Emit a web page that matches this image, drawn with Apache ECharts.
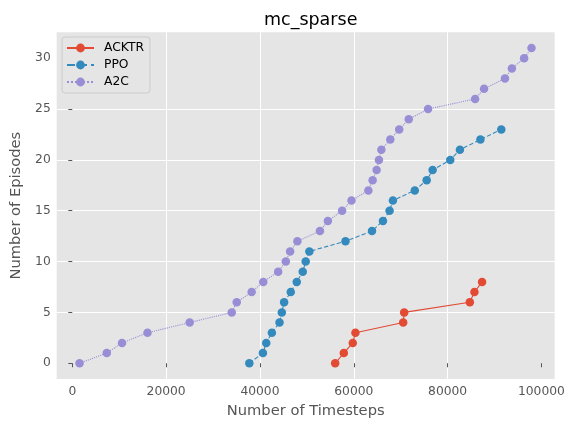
<!DOCTYPE html>
<html>
<head>
<meta charset="utf-8">
<script src="https://cdn.jsdelivr.net/npm/echarts@6/dist/echarts.min.js"></script>
<style>html,body{margin:0;padding:0;background:#fff}#c{width:566px;height:421px}</style>
</head>
<body>
<div id="c"></div>
<script>
const acktrX = [56030, 57870, 59780, 60350, 70530, 70740, 84730, 85720, 87340];
const acktrY = [0, 1, 2, 3, 4, 5, 6, 7, 8];
const ppoX = [37730, 40630, 41340, 42540, 44170, 44660, 45150, 46570, 47840, 49120, 49750, 50530, 58230, 63880, 66220, 67630, 68340, 73000, 75540, 76810, 80560, 82620, 86990, 91440];
const ppoY = [0, 1, 2, 3, 4, 5, 6, 7, 8, 9, 10, 11, 12, 13, 14, 15, 16, 17, 18, 19, 20, 21, 22, 23];
const a2cX = [1550, 7350, 10600, 16030, 25020, 33990, 35050, 38230, 40700, 43880, 45510, 46430, 47980, 52790, 54480, 57510, 59510, 63110, 64020, 64870, 65360, 65870, 67780, 69680, 71720, 75830, 85860, 87770, 92220, 93700, 96310, 97880];
const a2cY = [0, 1, 2, 3, 4, 5, 6, 7, 8, 9, 10, 11, 12, 13, 14, 15, 16, 17, 18, 19, 20, 21, 22, 23, 24, 25, 26, 27, 28, 29, 30, 31];
const xTicks = [0, 20000, 40000, 60000, 80000, 100000];
const yTicks = [0, 5, 10, 15, 20, 25, 30];
const seriesNames = ['ACKTR', 'PPO', 'A2C'];
const colors = ['#E24A33', '#348ABD', '#988ED5'];
const lineTypes = ['solid', 'dashed', 'dotted'];

const pairs = (xs, ys) => xs.map((x, i) => [x, ys[i]]);
const datas = [pairs(acktrX, acktrY), pairs(ppoX, ppoY), pairs(a2cX, a2cY)];

const xMin = -3325, xMax = 102825, yMin = -1.55, yMax = 32.55;
const font = 'DejaVu Sans';

const chart = echarts.init(document.getElementById('c'), null, {renderer: 'canvas'});
chart.setOption({
  animation: false,
  backgroundColor: '#ffffff',
  title: {
    text: 'mc_sparse', left: 305.7, top: 6, textAlign: 'center',
    textStyle: {fontFamily: font, fontSize: 17.5, fontWeight: 'normal', color: '#000'}
  },
  legend: {
    orient: 'vertical', left: 62, top: 37,
    data: seriesNames,
    itemWidth: 27, itemHeight: 11, itemGap: 5,
    backgroundColor: '#E5E5E5', borderColor: '#CCCCCC', borderWidth: 1, borderRadius: 3,
    padding: [5, 6, 5, 4],
    textStyle: {fontFamily: font, fontSize: 12.3, color: '#000', padding: [0, 0, 0, 5]}
  },
  grid: {left: 56.7, right: 11.3, top: 32.3, bottom: 42, show: true, backgroundColor: '#E5E5E5', borderWidth: 0, containLabel: false, outerBoundsMode: 'none'},
  xAxis: {
    type: 'value', min: xMin, max: xMax, splitNumber: 5,
    name: 'Number of Timesteps', nameLocation: 'middle', nameGap: 25,
    nameTextStyle: {fontFamily: font, fontSize: 14.7, color: '#555555'},
    axisLine: {show: false},
    axisTick: {show: true, customValues: xTicks, length: 4, lineStyle: {color: '#555555'}},
    axisLabel: {customValues: xTicks, formatter: v => String(v), fontFamily: font, fontSize: 12.3, color: '#555555', margin: 7},
    splitLine: {show: true, showMinLine: false, showMaxLine: false, lineStyle: {color: '#ffffff', width: 1}}
  },
  yAxis: {
    type: 'value', min: yMin, max: yMax, splitNumber: 5,
    name: 'Number of Episodes', nameLocation: 'middle', nameGap: 32.5,
    nameTextStyle: {fontFamily: font, fontSize: 14.7, color: '#555555'},
    axisLine: {show: false},
    axisTick: {show: true, customValues: yTicks, length: 4, lineStyle: {color: '#555555'}},
    axisLabel: {customValues: yTicks, formatter: v => String(v), fontFamily: font, fontSize: 12.3, color: '#555555', margin: 6},
    splitLine: {show: true, showMinLine: false, showMaxLine: false, lineStyle: {color: '#ffffff', width: 1}}
  },
  series: seriesNames.map((n, i) => ({
    name: n, type: 'line', data: datas[i],
    symbol: 'circle', symbolSize: 8.5, showSymbol: true,
    itemStyle: {color: colors[i]},
    lineStyle: {color: colors[i], width: 1.1, type: lineTypes[i]},
    emphasis: {disabled: true}
  }))
});
</script>
</body>
</html>
